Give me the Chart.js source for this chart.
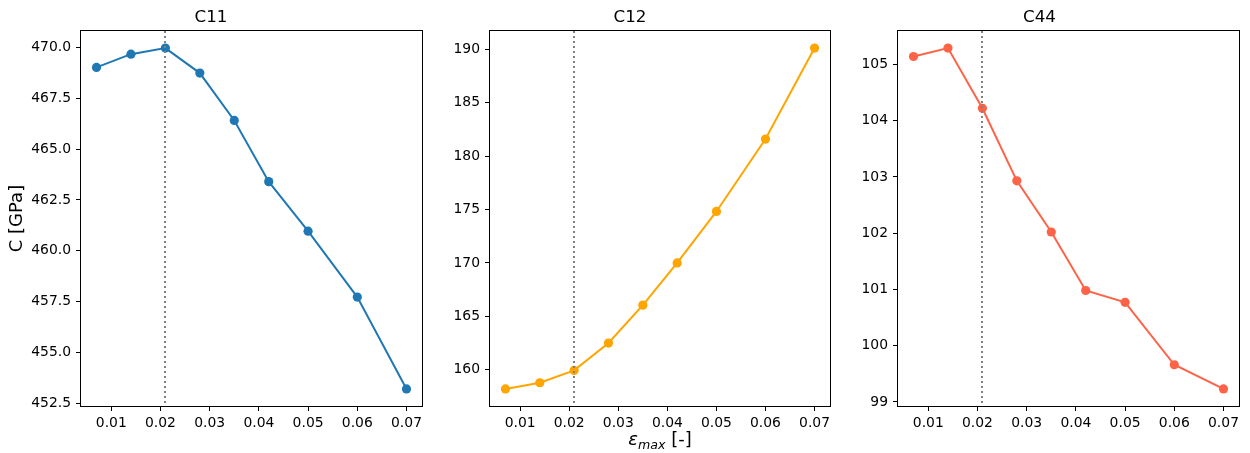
<!DOCTYPE html>
<html>
<head>
<meta charset="utf-8">
<script src="https://cdn.jsdelivr.net/npm/chart.js@4.4.1/dist/chart.umd.min.js"></script>
<style>
  body { margin: 0; background: #fff; }
  #wrap { position: relative; width: 1250px; height: 453px; }
  canvas { position: absolute; top: 0; }
</style>
</head>
<body>
<div id="wrap">
  <canvas id="c11" width="430" height="453" style="left:0px"></canvas>
  <canvas id="c12" width="410" height="453" style="left:430px"></canvas>
  <canvas id="c44" width="410" height="453" style="left:840px"></canvas>
</div>
<script>
// strain amplitudes used for the fits
const epsMax = [0.007, 0.014, 0.021, 0.028, 0.035, 0.042, 0.05, 0.06, 0.07];

// elastic constants in GPa
const c11 = [469.02, 469.67, 469.97, 468.74, 466.41, 463.40, 460.96, 457.72, 453.20];
const c12 = [158.2, 158.78, 159.94, 162.5, 166.05, 170.0, 174.82, 181.6, 190.12];
const c44 = [105.14, 105.29, 104.22, 102.93, 102.02, 100.98, 100.77, 99.66, 99.23];

// chosen strain (dotted line)
const epsChosen = 0.021;

const xTicks = [0.01, 0.02, 0.03, 0.04, 0.05, 0.06, 0.07];
const c11Ticks = [452.5, 455.0, 457.5, 460.0, 462.5, 465.0, 467.5, 470.0];
const c12Ticks = [160, 165, 170, 175, 180, 185, 190];
const c44Ticks = [99, 100, 101, 102, 103, 104, 105];

Chart.defaults.font.family = "'DejaVu Sans', sans-serif";
Chart.defaults.color = '#000';

// 5% margin around the data, like matplotlib does
function padRange(arr) {
  let lo = Math.min(...arr), hi = Math.max(...arr);
  let d = (hi - lo) * 0.05;
  return [lo - d, hi + d];
}

const frame = {
  id: 'frame',
  afterDraw(chart) {
    const a = chart.chartArea, ctx = chart.ctx;
    ctx.save();
    ctx.strokeStyle = '#000';
    ctx.lineWidth = 1;
    ctx.strokeRect(Math.round(a.left) - 0.5, Math.round(a.top) - 0.5,
                   Math.round(a.right - a.left) + 1, Math.round(a.bottom - a.top) + 1);
    ctx.restore();
  }
};

const vline = {
  id: 'vline',
  afterDatasetsDraw(chart) {
    const a = chart.chartArea, ctx = chart.ctx;
    let x = Math.round(chart.scales.x.getPixelForValue(epsChosen));
    ctx.save();
    ctx.strokeStyle = '#808080';
    ctx.lineWidth = 2;
    ctx.setLineDash([2, 3]);
    ctx.beginPath();
    ctx.moveTo(x, a.top);
    ctx.lineTo(x, a.bottom);
    ctx.stroke();
    ctx.restore();
  }
};

// x label with an italic epsilon and subscript "max"
const epsLabel = {
  id: 'epsLabel',
  afterDraw(chart) {
    const a = chart.chartArea, ctx = chart.ctx;
    const fam = "'DejaVu Sans', sans-serif";
    const parts = [
      { t: '\u03b5', f: 'italic 18px ' + fam, dy: 0 },
      { t: 'max', f: 'italic 12.6px ' + fam, dy: 3.5 },
      { t: ' [-]', f: '18px ' + fam, dy: 0 }
    ];
    let total = 0;
    parts.forEach(p => { ctx.font = p.f; p.w = ctx.measureText(p.t).width; total += p.w; });
    let x = (a.left + a.right) / 2 - total / 2;
    let y = 445;
    ctx.save();
    ctx.fillStyle = '#000';
    ctx.textBaseline = 'alphabetic';
    parts.forEach(p => {
      ctx.font = p.f;
      ctx.fillText(p.t, x, y + p.dy);
      x += p.w;
    });
    ctx.restore();
  }
};

function makePanel(id, title, values, color, yTicks, decimals, yWidth, padRight, yTitle, extra) {
  let xr = padRange(epsMax);
  let yr = padRange(values);
  let points = epsMax.map((x, i) => ({ x: x, y: values[i] }));
  let plugins = [frame, vline];
  if (extra) plugins.push(extra);

  return new Chart(document.getElementById(id), {
    type: 'line',
    data: {
      datasets: [{
        data: points,
        borderColor: color,
        backgroundColor: color,
        borderWidth: 2,
        pointRadius: 4.6,
        pointBorderWidth: 0,
        tension: 0
      }]
    },
    options: {
      responsive: false,
      animation: false,
      events: [],
      layout: { padding: { top: 0, left: 0, right: padRight, bottom: 0 } },
      plugins: {
        legend: { display: false },
        tooltip: { enabled: false },
        title: {
          display: true,
          text: title,
          color: '#000',
          font: { size: 16.7, weight: 'normal' },
          padding: { top: 8, bottom: 3 }
        }
      },
      scales: {
        x: {
          type: 'linear',
          min: xr[0],
          max: xr[1],
          border: { display: false },
          grid: { drawOnChartArea: false, drawTicks: true, tickLength: 5, color: '#000' },
          ticks: {
            font: { size: 13.9 },
            padding: 4,
            maxRotation: 0,
            autoSkip: false,
            callback: v => v.toFixed(2)
          },
          afterBuildTicks: s => { s.ticks = xTicks.map(v => ({ value: v })); },
          afterFit: s => { s.height = 47; }
        },
        y: {
          type: 'linear',
          min: yr[0],
          max: yr[1],
          border: { display: false },
          grid: { drawOnChartArea: false, drawTicks: true, tickLength: 5, color: '#000' },
          ticks: {
            font: { size: 13.9 },
            padding: 5,
            autoSkip: false,
            callback: v => v.toFixed(decimals)
          },
          title: {
            display: !!yTitle,
            text: yTitle || '',
            font: { size: 18 },
            padding: { top: 7, bottom: 0 }
          },
          afterBuildTicks: s => { s.ticks = yTicks.map(v => ({ value: v })); },
          afterFit: s => { s.width = yWidth; }
        }
      }
    },
    plugins: plugins
  });
}

makePanel('c11', 'C11', c11, '#1f77b4', c11Ticks, 1, 81, 8, 'C [GPa]');
makePanel('c12', 'C12', c12, '#ffa500', c12Ticks, 0, 60, 10, null, epsLabel);
makePanel('c44', 'C44', c44, '#ff6347', c44Ticks, 0, 58, 11, null);
</script>
</body>
</html>
